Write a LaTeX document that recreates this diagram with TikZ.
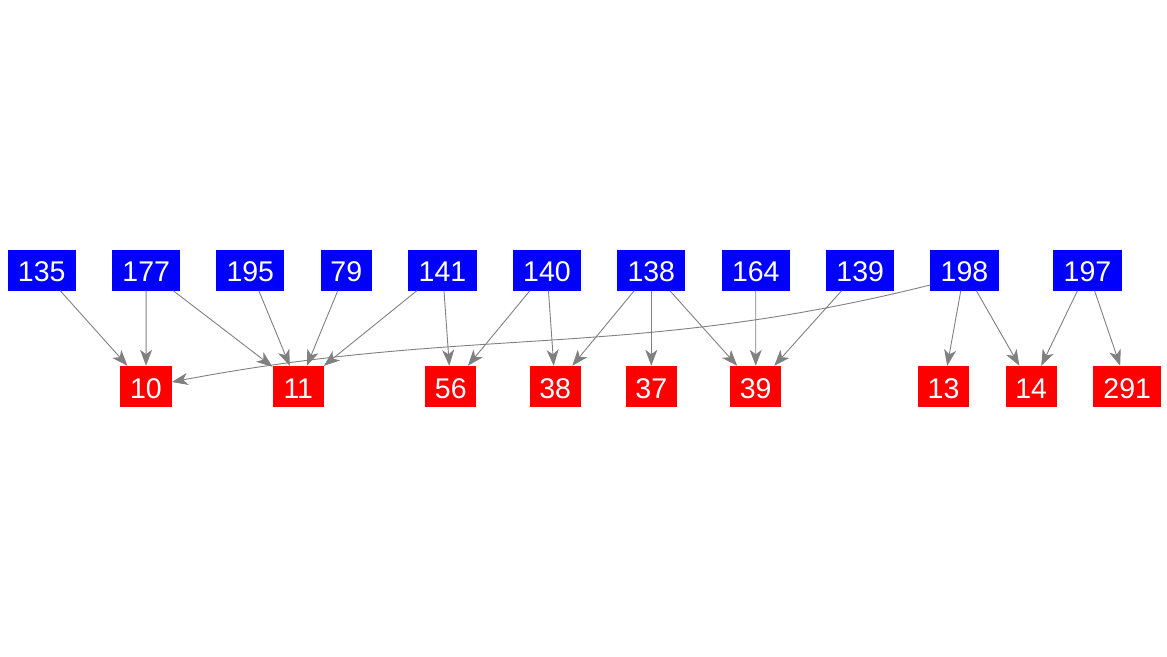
\documentclass[tikz,border=0pt]{standalone}
\usepackage{fontspec}
\setmainfont{Liberation Sans}
\usetikzlibrary{arrows.meta}
\definecolor{edgegray}{RGB}{128,128,128}
\tikzset{
  base/.style={inner sep=0pt, minimum height=41pt, text=white, font=\fontsize{28.5}{28.5}\selectfont, text height=23.5pt, text depth=0pt},
  src/.style={base, fill={rgb,255:red,0;green,0;blue,255}},
  dst/.style={base, fill={rgb,255:red,255;green,0;blue,0}},
  wide/.style={minimum width=68.3pt},
  narrow/.style={minimum width=51.3pt},
  edge/.style={draw=edgegray, line width=0.9pt, -{Stealth[length=16pt, width=12pt, inset=4.5pt, fill=edgegray]}}
}
\begin{document}
\begin{tikzpicture}[x=1pt, y=-1pt]
\useasboundingbox (0,0) rectangle (1167,656);
% top row
\node[src, wide]   (n135) at (41.7,270) {135};
\node[src, wide]   (n177) at (146.2,270) {177};
\node[src, wide]   (n195) at (250.3,270) {195};
\node[src, narrow] (n79)  at (346.3,270) {79};
\node[src, wide]   (n141) at (442.5,270) {141};
\node[src, wide]   (n140) at (547,270) {140};
\node[src, wide]   (n138) at (651.3,270) {138};
\node[src, wide]   (n164) at (755.8,270) {164};
\node[src, wide]   (n139) at (860.2,270) {139};
\node[src, wide]   (n198) at (964.5,270) {198};
\node[src, wide]   (n197) at (1087.5,270) {197};
% bottom row
\node[dst, narrow] (n10)  at (146,386.5) {10};
\node[dst, narrow] (n11)  at (298.3,386.5) {11};
\node[dst, narrow] (n56)  at (450.8,386.5) {56};
\node[dst, narrow] (n38)  at (555.2,386.5) {38};
\node[dst, narrow] (n37)  at (651.3,386.5) {37};
\node[dst, narrow] (n39)  at (755.7,386.5) {39};
\node[dst, narrow] (n13)  at (943.5,386.5) {13};
\node[dst, narrow] (n14)  at (1031.2,386.5) {14};
\node[dst, wide]   (n291) at (1127.2,386.5) {291};
% edges
\draw[edge] (n135) -- (n10);
\draw[edge] (n177) -- (n10);
\draw[edge] (n177) -- (n11);
\draw[edge] (n195) -- (n11);
\draw[edge] (n79) -- (n11);
\draw[edge] (n141) -- (n11);
\draw[edge] (n141) -- (n56);
\draw[edge] (n140) -- (n56);
\draw[edge] (n140) -- (n38);
\draw[edge] (n138) -- (n38);
\draw[edge] (n138) -- (n37);
\draw[edge] (n138) -- (n39);
\draw[edge] (n164) -- (n39);
\draw[edge] (n139) -- (n39);
\draw[edge] ([yshift=-15pt]n198.west) .. controls (630,360) and (472,325) .. ([yshift=4.5pt]n10.east);
\draw[edge] (n198) -- (n13);
\draw[edge] (n198) -- (n14);
\draw[edge] (n197) -- (n14);
\draw[edge] (n197) -- (n291);
\end{tikzpicture}
\end{document}
